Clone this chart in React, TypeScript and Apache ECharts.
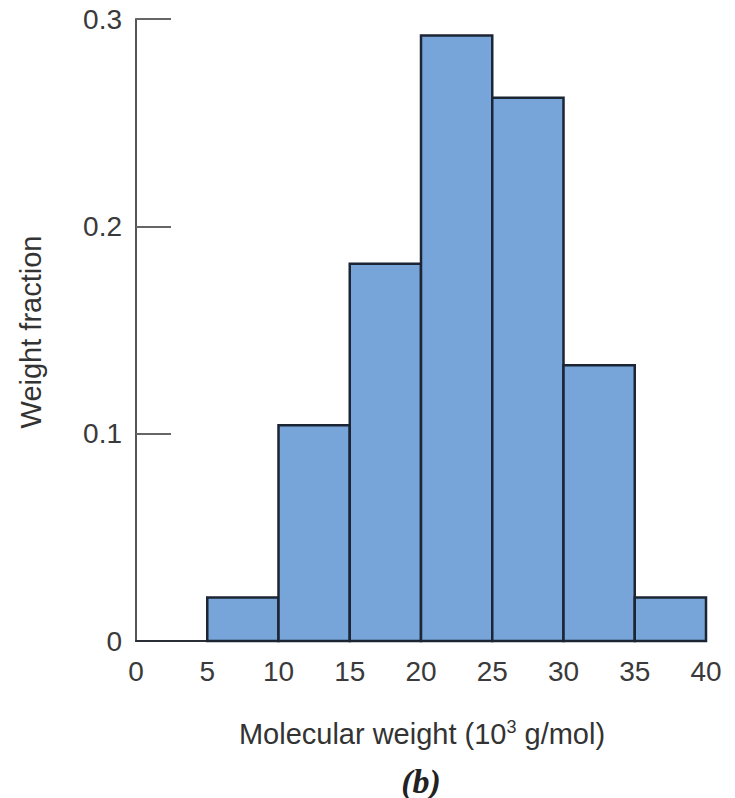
import React, { useEffect, useRef } from "react";
import * as echarts from "echarts";

const binStarts = [5, 10, 15, 20, 25, 30, 35];
const binEnds = [10, 15, 20, 25, 30, 35, 40];
const weightFractions = [0.021, 0.104, 0.182, 0.292, 0.262, 0.133, 0.021];
const xTicks = [0, 5, 10, 15, 20, 25, 30, 35, 40];
const yTicks = [0, 0.1, 0.2, 0.3];

const FONT = "'Liberation Sans', 'DejaVu Sans', sans-serif";

export default function App() {
  const ref = useRef<HTMLDivElement>(null);
  useEffect(() => {
    if (!ref.current) return;
    const chart = echarts.init(ref.current, null, { renderer: "svg" });
    const data = binStarts.map((s, i) => [s, binEnds[i], weightFractions[i]]);
    chart.setOption({
      animation: false,
      backgroundColor: "#ffffff",
      grid: { left: 136, right: 29, top: 19, bottom: 157, containLabel: false },
      xAxis: {
        type: "value",
        z: 2,
        min: xTicks[0],
        max: xTicks[xTicks.length - 1],
        interval: 5,
        axisLine: { show: true, lineStyle: { color: "#2a2f36", width: 2 } },
        axisTick: { show: false },
        splitLine: { show: false },
        axisLabel: {
          margin: 16,
          fontFamily: FONT,
          fontSize: 28,
          color: "#3a3a3a",
        },
      },
      yAxis: {
        type: "value",
        z: 1,
        min: yTicks[0],
        max: yTicks[yTicks.length - 1],
        interval: 0.1,
        axisLine: { show: true, lineStyle: { color: "#555555", width: 2 } },
        axisTick: { show: true, inside: true, length: 35, lineStyle: { color: "#666666", width: 2 } },
        splitLine: { show: false },
        axisLabel: {
          margin: 14,
          fontFamily: FONT,
          fontSize: 28,
          color: "#3a3a3a",
          formatter: (v: number) => (v === 0 ? "0" : v.toFixed(1)),
        },
      },
      series: [
        {
          type: "custom",
          z: 3,
          data,
          encode: { x: [0, 1], y: 2 },
          renderItem: (params: any, api: any) => {
            const x0 = api.value(0);
            const x1 = api.value(1);
            const y = api.value(2);
            const p0 = api.coord([x0, y]);
            const p1 = api.coord([x1, 0]);
            return {
              type: "rect",
              shape: { x: p0[0], y: p0[1], width: p1[0] - p0[0], height: p1[1] - p0[1] },
              style: { fill: "#77a4d9", stroke: "#1b2533", lineWidth: 2.5 },
            };
          },
        },
      ],
      graphic: [
        {
          type: "text",
          x: 422,
          y: 733,
          style: {
            text: "{a|Molecular weight (10}{s|3}{a| g/mol)}",
            align: "center",
            verticalAlign: "middle",
            rich: {
              a: { fontFamily: FONT, fontSize: 29, fill: "#333333", verticalAlign: "bottom" },
              s: { fontFamily: FONT, fontSize: 18, fill: "#333333", verticalAlign: "top", padding: [0, 0, 13, 0] },
            },
          },
        },
        {
          type: "text",
          x: 31,
          y: 332,
          rotation: Math.PI / 2,
          style: {
            text: "Weight fraction",
            align: "center",
            verticalAlign: "middle",
            fontFamily: FONT,
            fontSize: 29,
            fill: "#333333",
          },
        },
        {
          type: "text",
          x: 421,
          y: 781,
          style: {
            text: "(b)",
            align: "center",
            verticalAlign: "middle",
            fontFamily: "'Liberation Serif', 'DejaVu Serif', serif",
            fontSize: 34,
            fontWeight: "bold",
            fontStyle: "italic",
            fill: "#222222",
          },
        },
      ],
    });
    return () => chart.dispose();
  }, []);
  return <div ref={ref} style={{ width: 735, height: 798, position: "absolute", left: 0, top: 0 }} />;
}
